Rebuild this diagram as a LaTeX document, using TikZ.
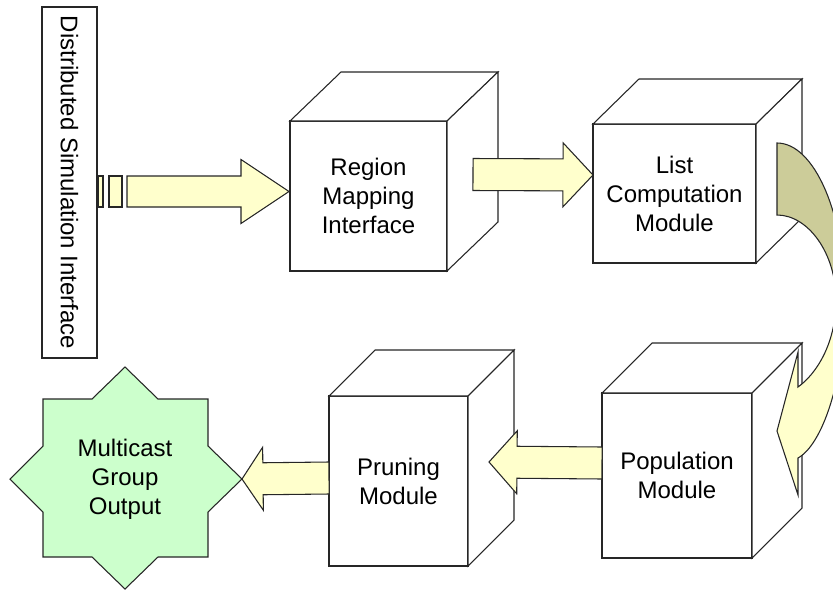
\documentclass[tikz,border=0pt]{standalone}
\usepackage{fontspec}
\usepackage{graphicx}
\setmainfont{Liberation Sans}
\usetikzlibrary{calc}
\definecolor{arrowyellow}{HTML}{FFFFCC}
\definecolor{arrowolive}{HTML}{CCCC99}
\definecolor{stargreen}{HTML}{CCFFCC}
\definecolor{edgegray}{HTML}{262626}
\tikzset{
  edgeline/.style={draw=edgegray, line width=0.8pt, line join=miter},
  frontface/.style={edgeline, fill=white, rectangle, inner sep=0pt, outer sep=0pt,
    align=center, font=\fontsize{18}{21.75}\selectfont},
  sideface/.style={edgeline, fill=white},
  labeltext/.style={align=center, font=\fontsize{18}{21.75}\selectfont, inner sep=0pt},
  yellowarrow/.style={edgeline, fill=arrowyellow},
}
% cube side faces: name, dx, dy
\newcommand\cubesides[3]{%
  \filldraw[sideface] (#1.north west) -- ++(#2,#3) -- ($(#1.north east)+(#2,#3)$) -- (#1.north east) -- cycle;
  \filldraw[sideface] (#1.north east) -- ++(#2,#3) -- ($(#1.south east)+(#2,#3)$) -- (#1.south east) -- cycle;
}
% block arrow: start, tip, half body, half head, head length (px)
\newcommand\blockarrow[5]{%
  \coordinate (ba-h) at ($(#2)!#5*0.75pt!(#1)$);
  \filldraw[yellowarrow] ($(#1)!#3*0.75pt!90:(#2)$) -- ($(ba-h)!#3*0.75pt!90:(#2)$)
    -- ($(ba-h)!#4*0.75pt!90:(#2)$) -- (#2) -- ($(ba-h)!#4*0.75pt!-90:(#2)$)
    -- ($(ba-h)!#3*0.75pt!-90:(#2)$) -- ($(#1)!#3*0.75pt!-90:(#2)$) -- cycle;
}
\begin{document}
\begin{tikzpicture}[x=0.75pt,y=-0.75pt]
\useasboundingbox (0,0) rectangle (833,590);
\clip (0,0) rectangle (833,590);

% Distributed Simulation Interface
\node[draw=edgegray, line width=0.8pt, fill=white, inner sep=0pt, outer sep=0pt,
  minimum width={55*0.75pt}, minimum height={351*0.75pt}] (dsi) at (69.5,182.5)
  {\rotatebox{-90}{\fontsize{18}{21.75}\selectfont Distributed Simulation Interface}};

% cubes
\node[frontface, minimum width={157*0.75pt}, minimum height={150*0.75pt}] (c1) at (368.5,196) {Region\\Mapping\\Interface};
\cubesides{c1}{51}{-49}
\node[frontface, minimum width={163*0.75pt}, minimum height={139*0.75pt}] (c2) at (674.5,193.5) {List\\Computation\\Module};
\cubesides{c2}{46}{-45}
\node[frontface, minimum width={150*0.75pt}, minimum height={165*0.75pt}] (c3) at (677,475.5) {Population\\Module};
\cubesides{c3}{50}{-50}
\node[frontface, minimum width={139*0.75pt}, minimum height={170*0.75pt}] (c4) at (398.5,481) {Pruning\\Module};
\cubesides{c4}{46}{-46}

% star
\coordinate (sc) at (125,479);
\filldraw[edgeline, fill=stargreen] (125,367) -- (158,399) -- (208,399) -- (208,446) -- (242,479)
  -- (208,512) -- (208,557) -- (158,557) -- (125,589) -- (92,557) -- (43,557) -- (43,512)
  -- (10,479) -- (43,446) -- (43,399) -- (92,399) -- cycle;
\node[labeltext] (mgo) at (sc) {Multicast\\Group\\Output};

% striped arrow from DSI to Region Mapping
\filldraw[yellowarrow] (98,176) rectangle (103,207);
\filldraw[yellowarrow] (109,176) rectangle (122,207);
\coordinate (a1s) at ($(dsi.east)+(30,9)$);
\coordinate (a1t) at ($(c1.west)+(-1,-4.5)$);
\blockarrow{a1s}{a1t}{15.5}{32}{48}

% Region Mapping -> List Computation
\coordinate (a2s) at ($(c1.east)+(26,-21.5)$);
\coordinate (a2t) at ($(c2.west)+(0,-18.5)$);
\blockarrow{a2s}{a2t}{16}{32}{30}

% Population -> Pruning
\coordinate (a3s) at ($(c3.west)+(0,-12.5)$);
\coordinate (a3t) at ($(c4.east)+(21,-19)$);
\blockarrow{a3s}{a3t}{16}{31.5}{28}

% Pruning -> Multicast Group Output
\coordinate (a4s) at ($(c4.west)+(0,-3)$);
\coordinate (a4t) at ($(sc)+(117,0)$);
\blockarrow{a4s}{a4t}{16}{31.5}{21}

% curved arrow List Computation -> Population
\filldraw[edgeline, fill=arrowolive] (777,143) .. controls (814,143) and (845,213) .. (845,300)
  -- (836,300) .. controls (836,253) and (808,215) .. (777,215) -- cycle;
\filldraw[edgeline, fill=arrowyellow] (845,300) .. controls (845,380) and (822,445) .. (798,458)
  -- (798,495) -- (777,431) -- (798,352) -- (798,387)
  .. controls (815,375) and (836,345) .. (836,300) -- cycle;
\end{tikzpicture}
\end{document}
